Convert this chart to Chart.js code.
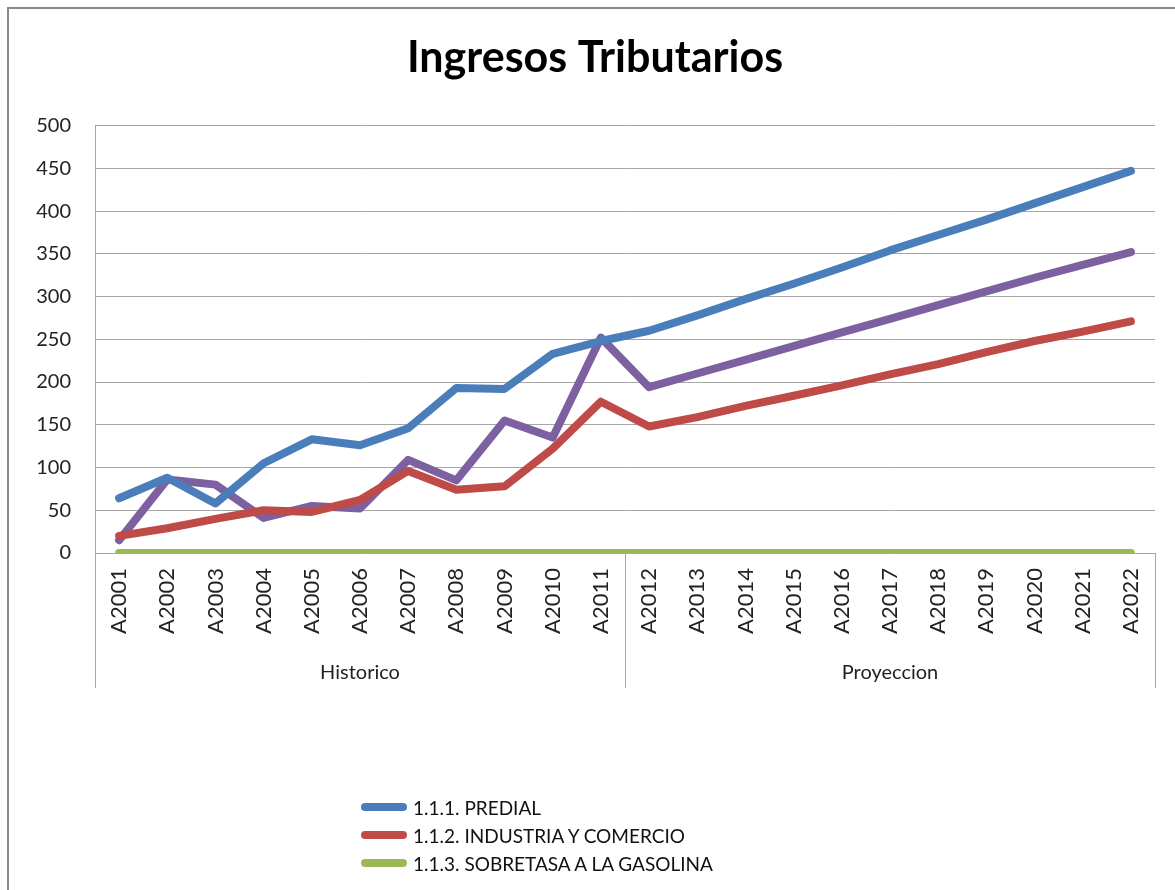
<!DOCTYPE html>
<html>
<head>
<meta charset="utf-8">
<script src="https://cdn.jsdelivr.net/npm/chart.js@4"></script>
<style>
  html, body { margin:0; padding:0; background:#fff; overflow:hidden; }
  #wrap { position:relative; width:1175px; height:890px; }
  #frame { position:absolute; left:7px; top:7px; width:1200px; height:900px; border:2px solid #8a8a8a; pointer-events:none; }
  #legend { position:absolute; left:361px; top:793px; font-family:Lato, sans-serif; font-size:19px; color:#111; }
  #legend .row { height:28px; display:flex; align-items:center; }
  #legend .sw { width:46px; height:8px; border-radius:4px; margin-right:6px; }
</style>
</head>
<body>
<div id="wrap">
  <canvas id="chart" width="1175" height="890"></canvas>
  <div id="frame"></div>
  <div id="legend"></div>
</div>
<script>
var years = ["A2001","A2002","A2003","A2004","A2005","A2006","A2007","A2008","A2009","A2010","A2011",
             "A2012","A2013","A2014","A2015","A2016","A2017","A2018","A2019","A2020","A2021","A2022"];
var groups = ["Historico","Proyeccion"];
var groupBreaks = [0, 11, 22];

var predial   = [64, 88, 58, 105, 133, 126, 146, 193, 192, 233, 248, 260, 278, 297, 315, 334, 354, 372, 390, 409, 428, 447];
var industria = [20, 29, 40, 50, 48, 62, 96, 74, 78, 122, 177, 148, 159, 172, 184, 196, 209, 221, 235, 248, 259, 271];
var sobretasa = [0, 0, 0, 0, 0, 0, 0, 0, 0, 0, 0, 0, 0, 0, 0, 0, 0, 0, 0, 0, 0, 0];
var otros     = [15, 86, 80, 41, 55, 52, 109, 85, 155, 135, 252, 194, 210, 226, 242, 258, 274, 290, 306, 322, 337, 352];

var seriesNames = ["1.1.1. PREDIAL", "1.1.2. INDUSTRIA Y COMERCIO", "1.1.3. SOBRETASA A LA GASOLINA", "1.1.4."];
var seriesColors = ["#4a7ebb", "#be4b48", "#98b954", "#7d60a0"];
var seriesData = [predial, industria, sobretasa, otros];
var legendCount = 3; // la cuarta serie queda fuera del recuadro

var font = "Lato, 'Noto Sans', sans-serif";
var gridColor = "#a6a6a6";

// lineas verticales que separan Historico / Proyeccion
var groupLines = {
    id:"groupLines",
    afterDraw:function(chart){
        var x = chart.scales.x, g = chart.scales.groups, c = chart.ctx;
        c.save();
        c.strokeStyle = gridColor;
        c.lineWidth = 1;
        groupBreaks.forEach(function(b){
            var px = Math.round(x.getPixelForValue(b - 0.5)) + 0.5;
            c.beginPath();
            c.moveTo(px, chart.chartArea.bottom);
            c.lineTo(px, g.bottom);
            c.stroke();
        });
        c.restore();
    }
};

var datasets = seriesData.map(function(d, i){
    return {
        label:seriesNames[i], data:d, xAxisID:"x",
        borderColor:seriesColors[i], backgroundColor:seriesColors[i],
        borderWidth:8, pointRadius:0, tension:0,
        borderCapStyle:"round", borderJoinStyle:"round",
        order: i == 2 ? 0 : 1
    };
});

var chart = new Chart(document.getElementById("chart"), {
    type:"line",
    data:{ labels:years, datasets:datasets },
    plugins:[groupLines],
    options:{
        responsive:false,
        animation:false,
        layout:{ padding:{ left:35, right:20, top:0, bottom:202 } },
        plugins:{
            legend:{ display:false },
            tooltip:{ enabled:false },
            title:{
                display:true, text:"Ingresos Tributarios", color:"#000",
                font:{ family:font, size:43, weight:"bold", lineHeight:1.2 },
                padding:{ top:32, bottom:42 }
            }
        },
        scales:{
            y:{
                min:0, max:500,
                ticks:{ stepSize:50, color:"#222", padding:24, font:{ family:font, size:20 } },
                grid:{ color:gridColor, drawTicks:false },
                border:{ display:true, color:gridColor },
                afterFit:function(s){ s.width = 60; }
            },
            x:{
                type:"category", position:"bottom", offset:true,
                ticks:{ minRotation:90, maxRotation:90, autoSkip:false, padding:15, color:"#222",
                        font:{ family:font, size:22 } },
                grid:{ display:false, drawTicks:false },
                border:{ display:false },
                afterFit:function(s){ s.height = 95; }
            },
            groups:{
                type:"category", position:"bottom", labels:groups, offset:true,
                ticks:{ padding:13, color:"#222", font:{ family:font, size:20 } },
                grid:{ display:false, drawTicks:false },
                border:{ display:false },
                afterFit:function(s){ s.height = 40; }
            }
        }
    }
});

// leyenda en columna, como en el original
var legend = document.getElementById("legend");
for (var i = 0; i < legendCount; i++) {
    var row = document.createElement("div");
    row.className = "row";
    var sw = document.createElement("span");
    sw.className = "sw";
    sw.style.background = seriesColors[i];
    var tx = document.createElement("span");
    tx.textContent = seriesNames[i];
    row.appendChild(sw);
    row.appendChild(tx);
    legend.appendChild(row);
}
</script>
</body>
</html>
